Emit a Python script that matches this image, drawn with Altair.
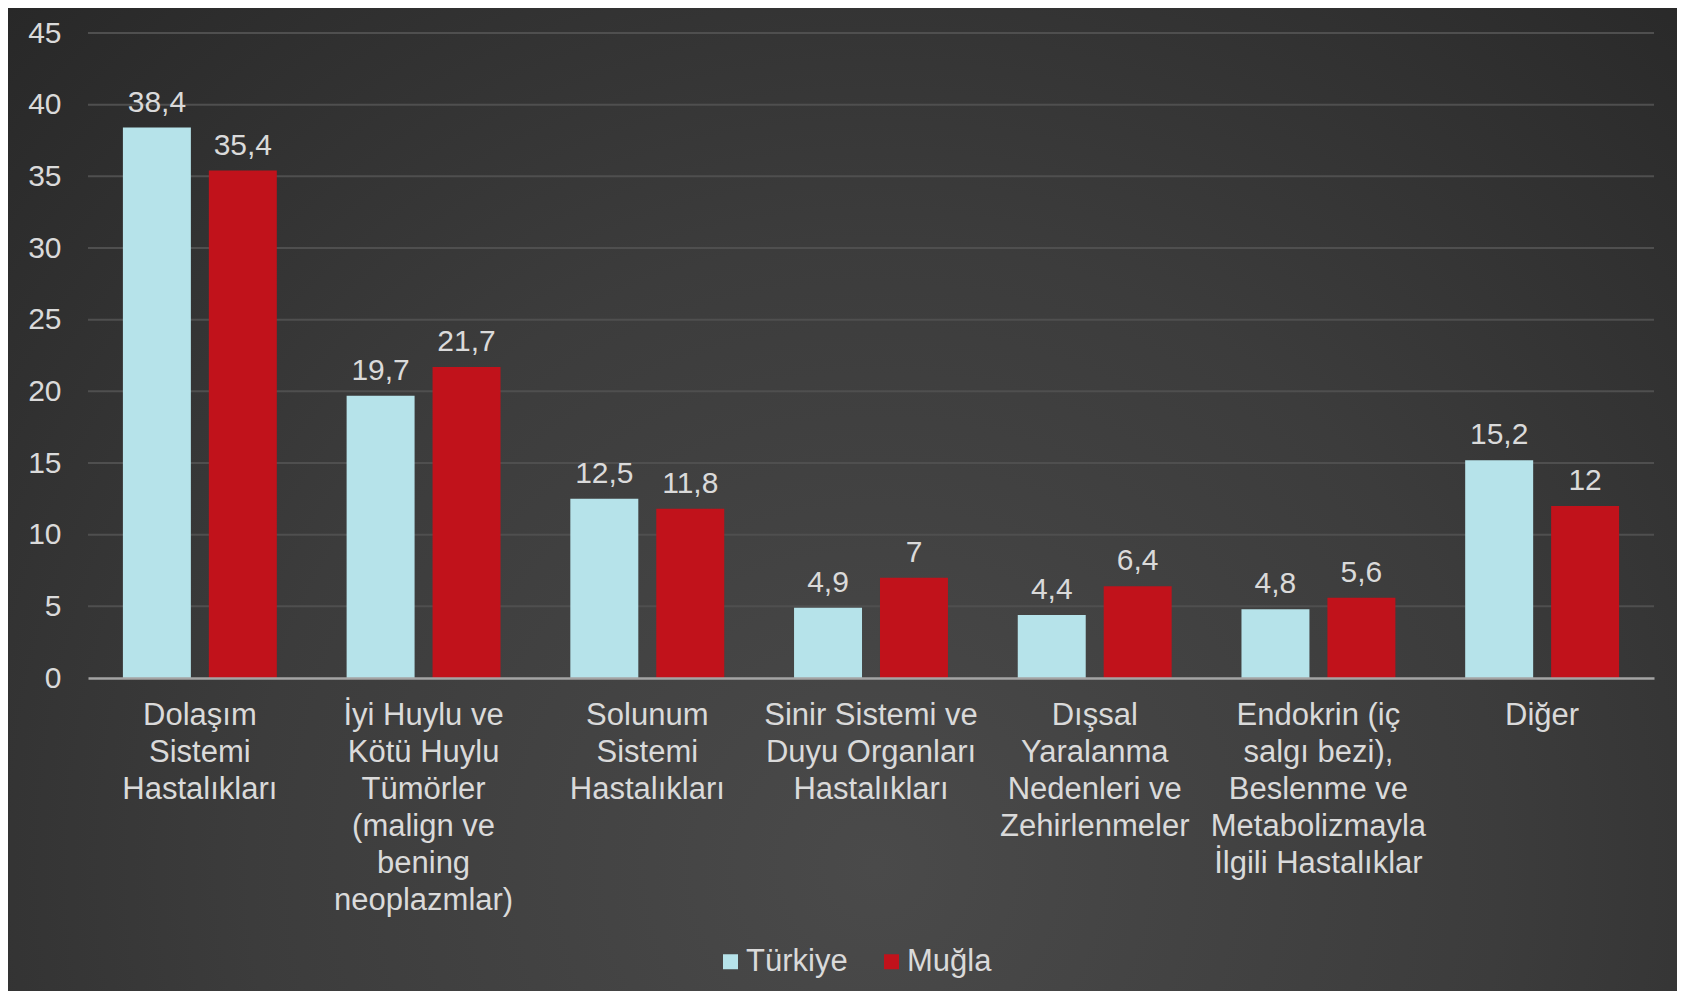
import altair as alt
import pandas as pd

# ---- data ----
categories = [
    ["Dolaşım", "Sistemi", "Hastalıkları"],
    ["İyi Huylu ve", "Kötü Huylu", "Tümörler", "(malign ve", "bening", "neoplazmlar)"],
    ["Solunum", "Sistemi", "Hastalıkları"],
    ["Sinir Sistemi ve", "Duyu Organları", "Hastalıkları"],
    ["Dışsal", "Yaralanma", "Nedenleri ve", "Zehirlenmeler"],
    ["Endokrin (iç", "salgı bezi),", "Beslenme ve", "Metabolizmayla", "İlgili Hastalıklar"],
    ["Diğer"],
]
series = ["Türkiye", "Muğla"]
turkiye = [38.4, 19.7, 12.5, 4.9, 4.4, 4.8, 15.2]
mugla = [35.4, 21.7, 11.8, 7, 6.4, 5.6, 12]
y_ticks = [0, 5, 10, 15, 20, 25, 30, 35, 40, 45]

colors = ["#b6e3ea", "#c1121b"]
text_color = "#dadada"
FONT = "Liberation Sans"

cat_names = ["\n".join(c) for c in categories]
rows = []
for name, t, m in zip(cat_names, turkiye, mugla):
    rows.append({"category": name, "series": series[0], "value": t})
    rows.append({"category": name, "series": series[1], "value": m})
df = pd.DataFrame(rows)

W, H = 1566, 645
PAD = {"left": 80, "top": 25, "right": 23, "bottom": 313}

yscale = alt.Scale(domain=[0, 45], nice=False, zero=True)
xscale = alt.Scale(paddingInner=0.312, paddingOuter=0.156)
xoff_scale = alt.Scale(paddingInner=0.209, paddingOuter=0)

y_axis = alt.Axis(
    title=None,
    values=y_ticks,
    labelFontSize=30,
    labelColor=text_color,
    labelFont=FONT,
    labelPadding=27,
    ticks=False,
    tickSize=0,
    domain=False,
    grid=False,
    zindex=1,
)

x_axis = alt.Axis(
    title=None,
    labelAngle=0,
    labelExpr="split(datum.label, '\\n')",
    labelFontSize=31,
    labelLineHeight=37,
    labelColor=text_color,
    labelFont=FONT,
    labelPadding=22,
    labelBaseline="top",
    labelLimit=400,
    labelOverlap=False,
    labelBound=False,
    ticks=False,
    tickSize=0,
    domain=True,
    domainColor="#a4a4a4",
    domainWidth=2.5,
    zindex=1,
)

# background gradient panel
bg = alt.Chart(alt.Data(values=[{"k": 1}])).mark_rect(
    fill=alt.RadialGradient(
        gradient="radial",
        stops=[
            alt.GradientStop(color="#4a4a4a", offset=0),
            alt.GradientStop(color="#3c3c3c", offset=0.5),
            alt.GradientStop(color="#272727", offset=1),
        ],
        x1=0.52, y1=0.72, r1=0,
        x2=0.52, y2=0.72, r2=0.75,
    )
).encode(
    x=alt.value(-PAD["left"]),
    x2=alt.value(W + PAD["right"]),
    y=alt.value(-PAD["top"]),
    y2=alt.value(H + PAD["bottom"]),
)

grid = alt.Chart(pd.DataFrame({"tick": y_ticks[1:]})).mark_rule(
    color="#4f4f4f", strokeWidth=2
).encode(y=alt.Y("tick:Q", scale=yscale, axis=y_axis))

base = alt.Chart(df)

bars = base.mark_bar().encode(
    x=alt.X("category:N", sort=cat_names, scale=xscale, axis=x_axis),
    xOffset=alt.XOffset("series:N", sort=series, scale=xoff_scale),
    y=alt.Y("value:Q", scale=yscale, axis=y_axis),
    color=alt.Color(
        "series:N",
        sort=series,
        scale=alt.Scale(domain=series, range=colors),
        legend=alt.Legend(
            title=None,
            orient="none",
            direction="horizontal",
            legendX=627,
            legendY=913,
            symbolType="square",
            symbolSize=225,
            symbolStrokeWidth=0,
            labelFontSize=31,
            labelFont=FONT,
            labelColor=text_color,
            labelOffset=0,
            columnPadding=28,
            padding=0,
        ),
    ),
)

labels = base.transform_calculate(
    lbl="replace(toString(datum.value), '.', ',')"
).mark_text(
    baseline="bottom", dy=-10, fontSize=30, font=FONT, color=text_color
).encode(
    x=alt.X("category:N", sort=cat_names, scale=xscale, axis=x_axis),
    xOffset=alt.XOffset("series:N", sort=series, scale=xoff_scale),
    y=alt.Y("value:Q", scale=yscale, axis=y_axis),
    text="lbl:N",
)

chart = alt.layer(bg, grid, bars, labels).properties(
    width=W,
    height=H,
    padding=PAD,
    autosize=alt.AutoSizeParams(type="none"),
    background="#2c2c2c",
).configure_view(stroke=None).configure(font=FONT)

chart.save("out.html", embed_options={"renderer": "svg", "actions": False})
